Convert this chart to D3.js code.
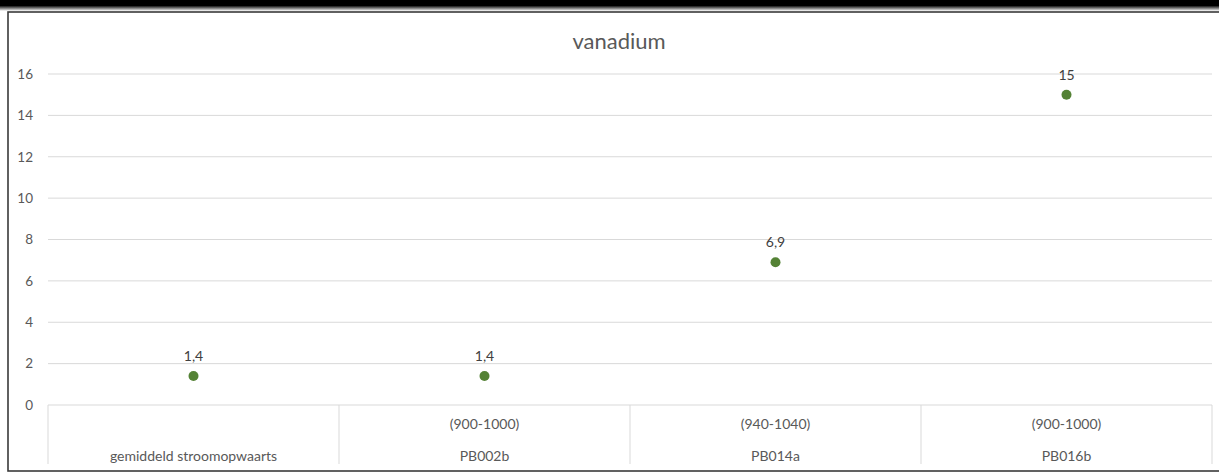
<!DOCTYPE html>
<html>
<head>
<meta charset="utf-8">
<script src="https://cdn.jsdelivr.net/npm/d3@7"></script>
<style>
  html, body { margin: 0; padding: 0; background: #fff; }
  svg { display: block; }
  text { font-family: Lato, "Open Sans", sans-serif; }
</style>
</head>
<body>
<svg id="chart" width="1219" height="473"></svg>
<script>
const title = "vanadium";
const categories = ["gemiddeld stroomopwaarts", "PB002b", "PB014a", "PB016b"];
const depthLabels = ["", "(900-1000)", "(940-1040)", "(900-1000)"];
const values = [1.4, 1.4, 6.9, 15];
const valueLabels = ["1,4", "1,4", "6,9", "15"];
const yTicks = [0, 2, 4, 6, 8, 10, 12, 14, 16];

(function () {
const svg = d3.select("#chart");
const W = 1219, H = 473;

const defs = svg.append("defs");
const grad = defs.append("linearGradient").attr("id", "topfade").attr("x1", 0).attr("y1", 0).attr("x2", 0).attr("y2", 1);
grad.append("stop").attr("offset", "0%").attr("stop-color", "#000");
grad.append("stop").attr("offset", "50%").attr("stop-color", "#000");
grad.append("stop").attr("offset", "100%").attr("stop-color", "#fff");
svg.append("rect").attr("x", 0).attr("y", 0).attr("width", W).attr("height", 11).attr("fill", "url(#topfade)");

svg.append("rect").attr("x", 8).attr("y", 12).attr("width", W).attr("height", 459)
  .attr("fill", "#fff").attr("stroke", "#3a3a3a").attr("stroke-width", 1.6);

const plotLeft = 48, plotRight = 1212, plotTop = 74, zeroY = 405;
const x = d3.scaleBand().domain(categories).range([plotLeft, plotRight]).padding(0);
const y = d3.scaleLinear().domain([0, 16]).range([zeroY, plotTop]);

svg.append("g").selectAll("line").data(yTicks).join("line")
  .attr("x1", plotLeft).attr("x2", plotRight)
  .attr("y1", d => y(d)).attr("y2", d => y(d))
  .attr("stroke", "#d9d9d9").attr("stroke-width", 1);

const yAxis = d3.axisLeft(y).tickValues(yTicks).tickSize(0).tickPadding(0).tickFormat(d3.format("d"));
const yg = svg.append("g").attr("transform", `translate(33,0)`).call(yAxis);
yg.select(".domain").remove();
yg.selectAll("text").attr("fill", "#595959").style("font-size", "13.5px").style("font-family", "Lato, 'Open Sans', sans-serif");

const seps = categories.map(c => x(c)).concat([plotRight]);
svg.append("g").selectAll("line").data(seps).join("line")
  .attr("x1", d => d).attr("x2", d => d)
  .attr("y1", zeroY).attr("y2", 464)
  .attr("stroke", "#d9d9d9").attr("stroke-width", 1);

const cat = svg.append("g").selectAll("g").data(categories).join("g")
  .attr("transform", d => `translate(${x(d) + x.bandwidth() / 2},0)`);
cat.append("text").attr("y", 429).attr("text-anchor", "middle")
  .attr("fill", "#595959").style("font-size", "14px")
  .text((d, i) => depthLabels[i]);
cat.append("text").attr("y", 461).attr("text-anchor", "middle")
  .attr("fill", "#595959").style("font-size", "14px")
  .text(d => d);

svg.append("text").attr("x", 619).attr("y", 49).attr("text-anchor", "middle")
  .attr("fill", "#595959").style("font-size", "22px").text(title);

svg.append("g").selectAll("circle").data(values).join("circle")
  .attr("cx", (d, i) => x(categories[i]) + x.bandwidth() / 2)
  .attr("cy", d => y(d))
  .attr("r", 5).attr("fill", "#548235");

svg.append("g").selectAll("text").data(values).join("text")
  .attr("x", (d, i) => x(categories[i]) + x.bandwidth() / 2)
  .attr("y", d => y(d) - 15)
  .attr("text-anchor", "middle").attr("fill", "#404040")
  .style("font-size", "14px")
  .text((d, i) => valueLabels[i]);
})();
</script>
</body>
</html>
